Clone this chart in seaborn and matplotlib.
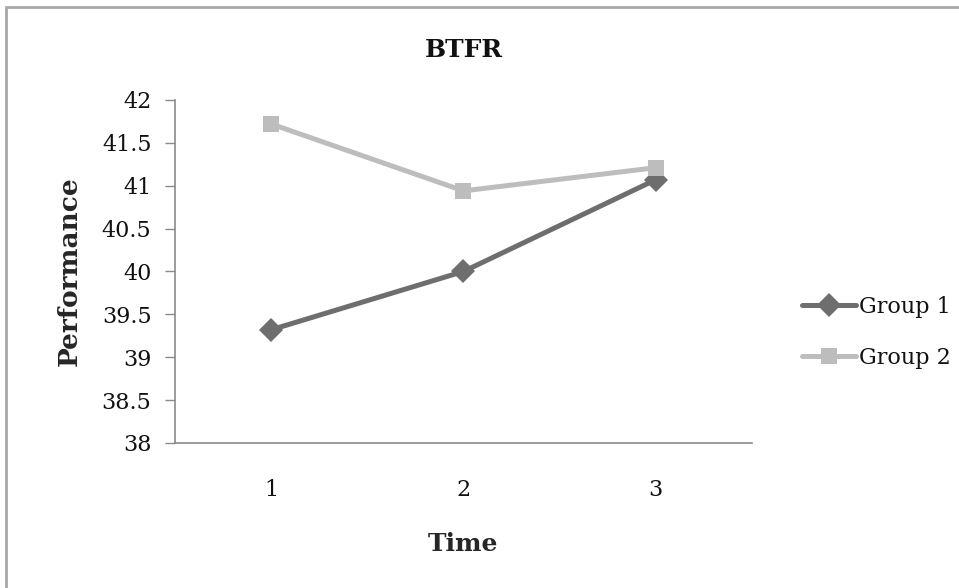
import pandas as pd
import matplotlib.pyplot as plt
import seaborn as sns
from matplotlib.patches import Rectangle

times = [1, 2, 3]
group1 = [39.32, 40.0, 41.07]
group2 = [41.72, 40.94, 41.21]
y_ticks = [38, 38.5, 39, 39.5, 40, 40.5, 41, 41.5, 42]
y_labels = ['38', '38.5', '39', '39.5', '40', '40.5', '41', '41.5', '42']

df = pd.DataFrame({
    'Time': times * 2,
    'Performance': group1 + group2,
    'Group': ['Group 1'] * 3 + ['Group 2'] * 3,
})

sns.set_style('white')
plt.rcParams['font.family'] = ['DejaVu Serif']
plt.rcParams['text.color'] = '#111111'
plt.rcParams['xtick.color'] = '#111111'
plt.rcParams['ytick.color'] = '#111111'

fig = plt.figure(figsize=(9.59, 5.88), dpi=100)
ax = fig.add_axes([0.1825, 0.2466, 0.6015, 0.5834])

sns.lineplot(data=df, x='Time', y='Performance', hue='Group', style='Group',
             palette={'Group 1': '#6e6e6e', 'Group 2': '#bdbdbd'},
             markers={'Group 1': 'D', 'Group 2': 's'}, dashes=False,
             linewidth=3.6, markersize=12, markeredgewidth=0, ax=ax)

ax.set_xlim(0.5, 3.5)
ax.set_ylim(38, 42)
ax.set_xticks(times)
ax.set_xticklabels([str(t) for t in times], fontsize=16)
ax.set_yticks(y_ticks)
ax.set_yticklabels(y_labels, fontsize=16)
ax.tick_params(axis='y', length=7, width=1, color='#8a8a8a', direction='out', left=True, pad=10)
ax.tick_params(axis='x', length=0, pad=26)

for s in ['top', 'right']:
    ax.spines[s].set_visible(False)
for s in ['left', 'bottom']:
    ax.spines[s].set_color('#8a8a8a')
    ax.spines[s].set_linewidth(1.2)

ax.set_title('BTFR', fontsize=18, fontweight='bold', pad=31)
ax.set_xlabel('Time', fontsize=18, fontweight='bold', labelpad=22)
ax.set_ylabel('Performance', fontsize=19, fontweight='bold', labelpad=14)

handles, labels = ax.get_legend_handles_labels()
ax.legend(handles, labels, loc='center left', bbox_to_anchor=(0.825, 0.435),
          bbox_transform=fig.transFigure, frameon=False, fontsize=16,
          handlelength=2.4, handletextpad=0.15, labelspacing=1.3, borderpad=0)

fig.patches.append(Rectangle((6 / 959, -0.1), 1.1, 1.1 - 7 / 588,
                             transform=fig.transFigure, fill=False,
                             edgecolor='#a8a8a8', linewidth=2, zorder=0))

fig.savefig('out.png', dpi=100)
